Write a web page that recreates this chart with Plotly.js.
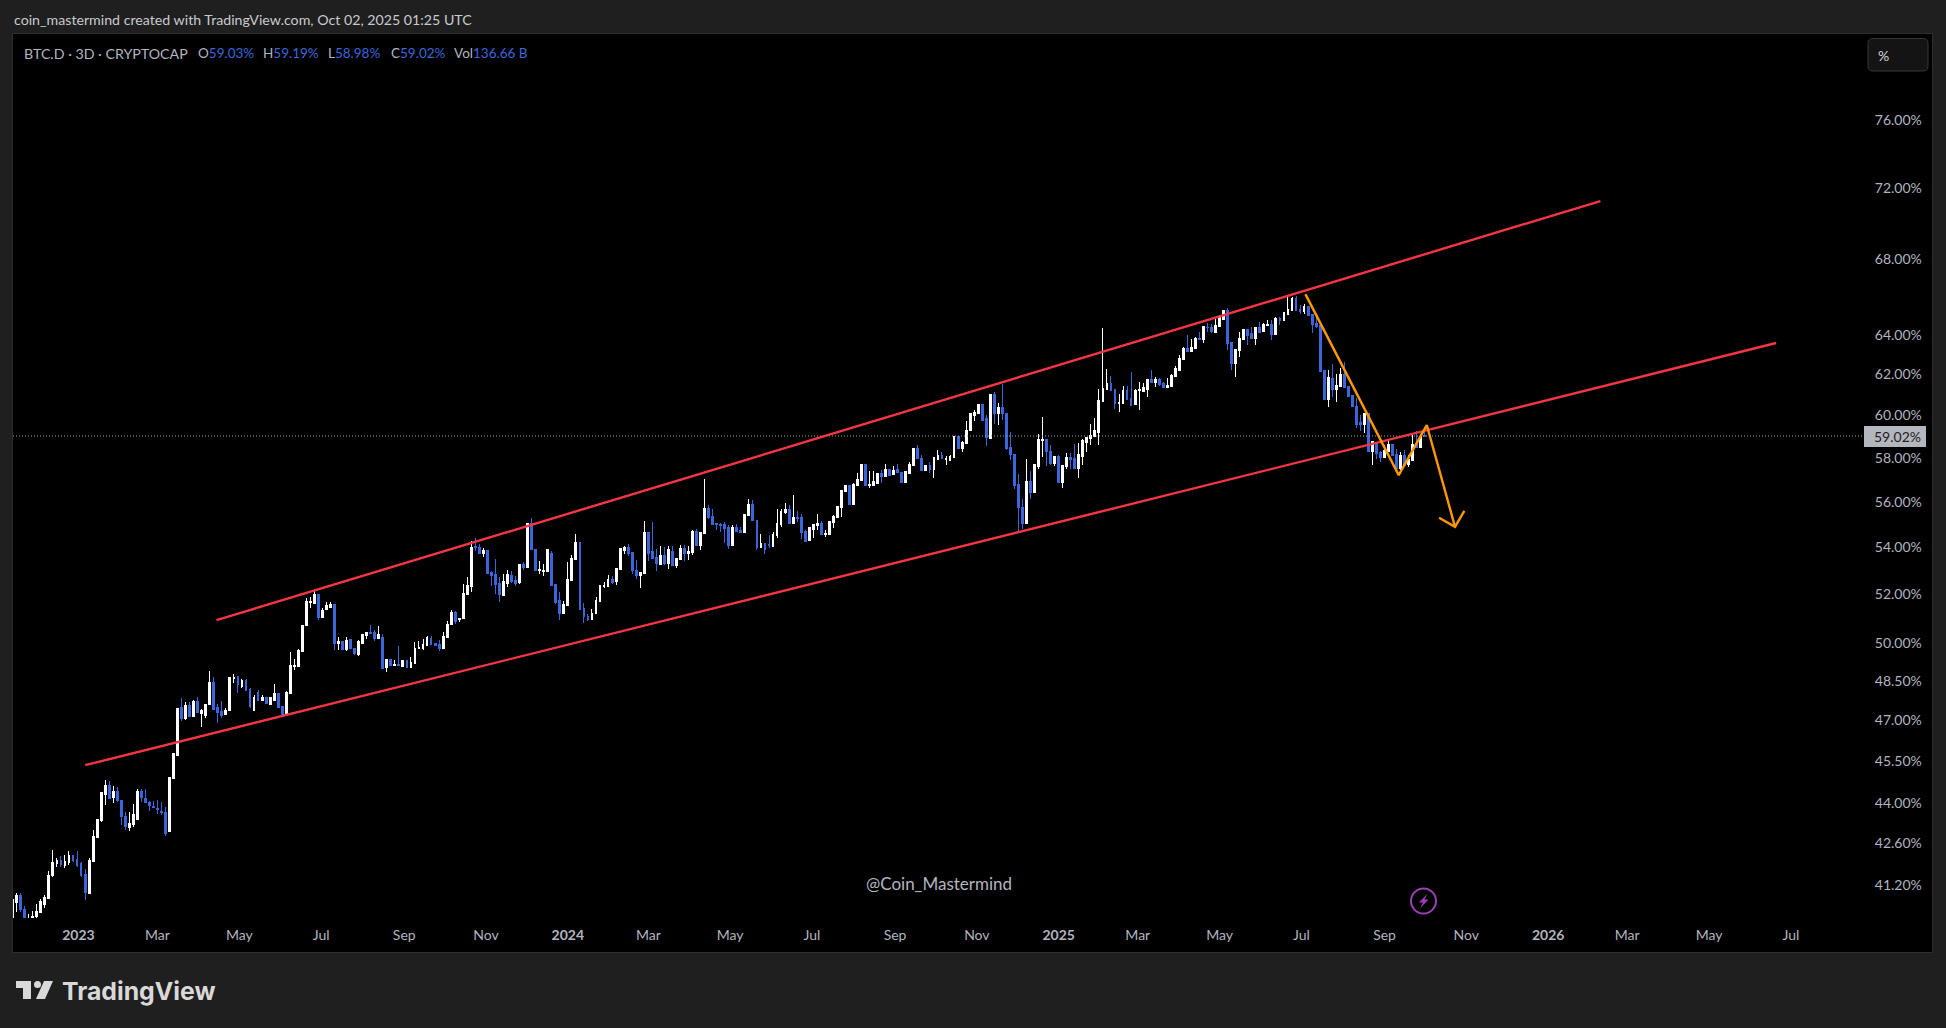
<!DOCTYPE html>
<html>
<head>
<meta charset="utf-8">
<script src="https://cdn.plot.ly/plotly-3.0.1.min.js"></script>
<style>html,body{margin:0;padding:0;background:#1f1f1f;overflow:hidden}#chart{width:1946px;height:1028px}
.boxlayer path{shape-rendering:crispEdges}</style>
</head>
<body>
<div id="chart"></div>
<script>
const firstBar = '2022-11-13';
const barStepDays = 3;
const openVals = [
39.90,40.64,40.87,40.39,39.90,40.06,40.19,40.32,40.58,40.77,
41.53,41.93,42.03,41.86,41.96,42.20,42.07,41.93,41.56,40.94,
42.00,42.81,43.40,44.31,44.63,44.20,44.42,44.10,43.54,43.16,
43.26,43.43,44.42,44.17,44.00,43.89,43.82,43.71,43.68,43.02,
44.88,45.71,47.51,47.09,47.58,47.16,47.73,47.28,47.20,47.62,
48.47,47.51,47.35,47.24,47.39,48.62,48.68,48.31,48.54,48.19,
47.39,48.08,47.77,47.89,47.62,47.77,48.04,47.54,47.24,48.04,
49.09,49.09,49.68,50.71,51.67,51.63,52.00,51.05,51.38,51.46,
51.59,50.00,50.08,49.74,50.16,49.80,49.54,50.00,50.33,50.45,
50.45,50.20,50.24,49.05,49.37,49.13,49.17,49.09,49.33,49.05,
49.21,49.78,49.78,49.92,50.20,50.00,49.96,49.78,50.24,50.77,
51.26,50.97,51.01,52.00,52.33,54.04,54.00,53.73,53.86,52.92,
52.84,52.46,51.96,52.46,52.80,52.59,52.50,53.26,53.14,55.04,
53.91,53.01,52.97,52.97,53.73,52.42,51.75,51.22,51.55,52.59,
53.48,54.21,51.42,51.09,50.97,51.22,51.71,52.34,52.34,52.63,
52.55,53.05,53.86,54.00,53.78,53.01,52.80,52.88,54.65,53.82,
53.57,53.26,53.65,53.31,53.82,53.22,53.48,53.95,53.73,53.78,
54.69,54.08,54.60,55.71,55.35,55.04,54.99,54.99,54.86,54.08,
54.86,54.73,54.65,55.39,55.88,55.17,54.00,54.17,54.13,54.04,
54.52,54.99,55.53,55.66,55.04,55.30,55.30,54.69,54.30,54.78,
54.95,55.04,54.56,54.56,55.08,55.30,55.75,56.47,56.74,55.88,
56.74,56.97,57.71,56.74,56.74,56.83,57.29,57.15,57.48,57.24,
57.48,57.34,56.88,57.29,57.66,58.41,57.98,57.43,57.66,57.48,
57.94,58.12,57.94,57.89,58.03,59.02,58.41,58.69,59.26,60.02,
60.07,60.55,59.83,58.92,61.03,60.07,60.36,60.07,58.50,58.17,
56.79,55.75,55.04,56.93,56.43,57.61,58.83,58.87,58.31,57.75,
58.08,56.88,57.61,58.03,57.98,57.52,58.08,58.73,58.92,59.02,
59.21,60.69,61.28,61.57,61.28,60.60,60.60,61.23,60.84,60.55,
61.23,61.18,61.28,61.77,61.62,61.77,61.57,61.38,61.43,61.92,
62.22,62.77,63.32,63.17,63.32,63.83,63.78,64.40,64.40,64.14,
64.45,64.81,65.28,63.63,62.57,63.22,63.78,64.29,64.09,63.83,
64.35,64.19,64.50,64.55,64.04,64.86,64.76,65.07,65.28,65.91,
65.33,65.18,65.44,65.07,64.60,64.50,62.22,60.79,61.82,61.28,
61.43,62.02,61.43,60.98,60.45,59.64,59.59,60.07,58.31,58.73,
58.26,58.03,58.31,58.60,58.17,57.52,58.12,57.71,57.89,58.64,58.50,59.03];
const highVals = [
40.77,40.94,40.94,40.52,40.26,40.35,40.58,40.74,40.87,41.66,
42.37,42.10,42.17,42.20,42.34,42.20,42.34,41.96,41.73,42.10,
43.05,43.43,44.38,44.81,44.78,44.60,44.56,44.10,43.68,43.68,
43.96,44.49,44.49,44.49,44.07,44.07,44.10,44.03,43.85,44.92,
45.79,47.47,47.85,47.70,47.70,47.77,47.89,47.43,47.62,48.89,
48.66,47.62,47.73,47.47,48.66,48.78,48.70,48.58,48.58,48.23,
47.96,48.16,47.96,47.89,47.89,48.39,48.04,47.54,48.12,49.64,
49.37,49.76,50.75,51.83,51.87,52.17,52.00,51.42,51.67,51.67,
51.59,50.24,50.08,50.24,50.16,49.80,50.12,50.37,50.45,50.73,
50.53,50.69,50.37,49.37,49.37,49.33,49.88,49.33,49.33,49.44,
50.04,50.08,50.16,50.29,50.29,50.00,50.12,50.45,50.89,51.34,
51.30,51.01,52.42,52.72,54.26,54.39,54.13,53.95,53.86,52.97,
53.48,52.72,52.84,53.01,52.97,52.76,53.26,53.35,55.04,55.26,
53.91,53.39,53.26,53.91,53.82,52.42,52.08,51.71,53.35,53.65,
54.56,54.21,51.63,51.18,51.38,51.87,52.38,52.50,52.80,52.76,
53.10,53.95,54.04,54.13,53.78,53.44,52.92,55.13,54.65,55.08,
53.91,54.04,54.00,54.04,54.04,53.52,54.08,54.08,54.04,54.73,
54.78,54.64,57.02,55.84,55.66,55.04,55.04,55.08,54.95,54.95,
54.99,54.86,55.44,56.11,56.06,55.17,54.56,54.17,54.52,54.65,
55.66,55.66,55.93,55.84,56.29,55.57,55.44,54.73,54.86,54.99,
55.44,55.13,54.73,55.13,55.39,55.80,56.52,56.74,56.74,56.83,
57.29,57.71,57.71,57.38,57.38,57.29,57.43,57.71,57.48,57.61,
57.71,57.34,57.38,57.80,58.41,58.60,58.12,57.66,57.80,58.03,
58.36,58.26,58.08,58.12,59.02,59.02,58.78,59.73,60.07,60.26,
60.55,60.55,60.02,61.03,61.13,60.60,61.52,60.07,59.21,58.17,
57.24,56.11,57.94,57.38,57.71,59.11,59.92,58.87,58.60,58.08,
58.12,57.66,58.22,58.22,58.64,58.69,58.87,58.97,59.59,59.87,
61.28,64.34,62.27,61.92,61.28,61.03,61.43,61.43,62.12,61.28,
61.62,61.57,61.77,62.22,61.87,61.82,61.62,61.82,62.02,62.42,
62.97,63.37,63.98,63.78,63.88,64.14,64.45,64.60,64.55,64.81,
65.02,65.28,65.39,63.63,63.27,64.14,64.29,64.29,64.40,64.40,
64.65,64.60,64.76,64.76,64.91,64.91,65.18,65.96,65.96,66.02,
65.54,65.59,65.44,65.07,64.91,64.50,62.22,62.22,62.52,62.02,
62.32,62.62,61.43,60.98,60.84,60.02,60.12,60.07,58.78,58.73,
58.31,58.60,58.83,58.64,58.41,58.26,58.36,58.12,59.06,59.26,59.11,59.19];
const lowVals = [
39.80,40.32,40.32,40.00,39.80,39.95,40.13,40.31,40.45,40.77,
41.46,41.80,41.80,41.76,41.86,41.96,41.80,41.46,40.71,40.94,
42.00,42.81,43.33,43.92,44.13,44.00,44.03,43.23,43.05,43.02,
43.16,43.43,44.03,44.00,43.71,43.82,43.61,43.58,42.84,43.02,
44.88,45.71,47.00,47.01,47.12,47.12,47.28,46.75,47.09,47.62,
47.39,46.90,47.09,47.24,47.39,48.43,48.04,48.23,48.16,47.47,
47.39,47.77,47.77,47.66,47.62,47.77,47.47,47.24,47.24,48.04,
48.93,49.09,49.64,50.71,51.42,51.63,50.95,51.03,51.38,51.46,
49.74,49.74,49.72,49.68,49.76,49.52,49.48,50.00,50.18,50.41,
50.08,50.20,49.01,48.85,49.13,49.09,49.13,49.09,49.01,49.05,
49.21,49.78,49.74,49.92,49.96,49.88,49.70,49.78,50.24,50.77,
50.77,50.85,51.01,52.00,52.11,53.82,53.73,53.57,52.88,52.34,
52.00,51.67,51.96,52.29,52.46,52.34,52.42,53.01,53.14,53.91,
53.01,52.84,52.76,52.97,52.34,51.59,50.93,51.18,51.55,52.59,
53.44,51.34,50.81,50.89,50.97,51.18,51.71,52.25,52.34,52.42,
52.38,53.05,53.69,53.60,52.84,52.63,52.25,52.88,53.39,53.52,
52.97,53.22,53.22,53.05,53.22,53.10,53.48,53.39,53.44,53.65,
54.08,53.86,54.60,55.21,54.99,54.73,54.65,54.17,53.91,54.08,
54.65,54.65,54.65,55.39,55.13,53.86,54.00,53.69,53.95,54.04,
54.39,54.86,55.44,55.04,55.04,55.08,54.34,54.21,54.30,54.39,
54.73,54.56,54.43,54.56,54.82,55.30,55.30,56.47,55.84,55.88,
56.74,56.97,56.74,56.61,56.74,56.83,56.83,57.15,57.15,57.24,
57.34,56.83,56.88,57.29,57.66,57.98,57.43,57.43,57.29,57.06,
57.94,57.98,57.66,57.85,58.03,58.41,58.26,58.69,59.26,59.73,
60.07,59.78,58.55,58.92,59.59,59.54,59.78,58.36,57.89,56.56,
54.60,54.78,55.04,56.11,56.38,57.48,58.03,57.61,57.66,57.61,
56.88,56.61,57.48,57.48,57.48,57.06,57.66,58.26,58.60,59.02,
58.60,60.69,61.28,61.23,60.31,60.17,60.60,60.79,60.50,60.55,
60.26,61.18,60.89,61.62,61.38,61.43,61.33,61.38,61.38,61.87,
62.22,62.77,63.17,63.17,63.27,63.78,63.58,64.14,64.09,64.14,
64.45,64.81,63.22,62.22,61.87,62.87,63.78,63.47,63.83,63.47,
64.14,64.19,64.45,63.73,64.04,64.50,64.71,65.02,65.28,65.23,
65.07,65.09,65.02,64.09,64.35,62.17,60.74,60.41,60.89,60.64,
61.43,61.38,60.94,60.45,59.40,59.26,59.16,58.26,57.66,57.94,
57.80,58.03,58.31,58.07,57.52,57.24,57.62,57.57,57.89,58.50,58.50,58.98];
const closeVals = [
40.74,40.87,40.42,40.13,40.02,40.19,40.35,40.67,40.80,41.53,
41.96,42.03,41.89,42.00,42.20,42.03,41.86,41.53,40.97,42.03,
42.84,43.43,44.38,44.63,44.17,44.42,44.07,43.51,43.19,43.30,
43.61,44.42,44.20,44.00,43.92,43.85,43.78,43.68,42.95,44.92,
45.79,47.47,47.09,47.58,47.16,47.73,47.32,47.39,47.62,48.47,
47.43,47.32,47.20,47.39,48.66,48.66,48.36,48.54,48.16,47.54,
47.89,47.77,47.89,47.66,47.89,48.04,47.51,47.24,48.08,49.13,
49.13,49.70,50.73,51.71,51.71,52.00,51.05,51.34,51.55,51.59,
50.00,50.08,49.74,50.12,49.80,49.58,50.08,50.37,50.45,50.41,
50.20,50.37,49.01,49.37,49.13,49.17,49.13,49.33,49.05,49.25,
49.78,49.82,49.96,50.24,49.96,49.90,49.78,50.29,50.77,51.26,
50.89,51.01,52.04,52.38,54.00,54.00,53.73,53.86,52.88,52.80,
52.42,52.00,52.55,52.84,52.55,52.46,53.26,53.14,55.04,53.91,
53.01,53.05,53.01,53.91,52.38,51.67,51.22,51.59,52.63,53.52,
54.21,51.38,51.09,50.97,51.22,51.75,52.38,52.38,52.63,52.50,
53.10,53.95,54.00,53.73,53.01,52.80,52.92,54.65,53.73,53.52,
53.31,53.65,53.31,53.91,53.22,53.52,53.95,53.73,53.82,54.69,
54.08,54.64,55.71,55.30,54.99,54.99,54.95,54.82,54.08,54.86,
54.69,54.65,55.44,55.88,55.17,54.00,54.17,53.91,54.08,54.56,
55.04,55.57,55.66,55.04,55.30,55.26,54.65,54.26,54.86,54.99,
55.04,54.56,54.60,55.13,55.35,55.80,56.52,56.74,55.88,56.79,
57.02,57.71,56.74,56.79,56.93,57.29,57.15,57.48,57.20,57.43,
57.34,56.88,57.38,57.71,58.41,57.98,57.43,57.66,57.48,58.03,
58.12,57.98,57.98,58.08,59.02,58.41,58.73,59.30,60.07,60.12,
60.55,59.78,58.97,61.03,60.07,60.36,60.07,58.45,58.17,56.74,
55.75,55.04,56.93,56.43,57.71,58.87,58.87,58.31,57.75,58.08,
56.88,57.66,58.03,57.94,57.52,58.17,58.83,58.97,59.06,59.26,
60.74,61.33,61.57,61.23,60.60,60.64,61.23,60.79,60.50,61.23,
61.28,61.38,61.77,61.62,61.77,61.52,61.38,61.47,61.97,62.32,
62.82,63.32,63.17,63.37,63.83,63.78,64.45,64.35,64.19,64.50,
64.91,65.28,63.58,62.57,63.27,63.83,64.29,63.98,63.83,64.35,
64.14,64.55,64.55,64.04,64.86,64.76,65.13,65.33,65.91,65.28,
65.23,65.44,65.02,64.55,64.45,62.17,60.79,61.87,61.28,61.47,
62.02,61.38,60.94,60.45,59.59,59.59,60.07,58.31,58.78,58.22,
58.03,58.36,58.60,58.12,57.52,58.12,57.66,57.94,58.64,58.50,59.02,59.02];

const priceTicks = [76,72,68,64,62,60,58,56,54,52,50,48.5,47,45.5,44,42.6,41.2];
const timeTicks = ['2023-01-01','2023-03-01','2023-05-01','2023-07-01','2023-09-01','2023-11-01','2024-01-01','2024-03-01','2024-05-01','2024-07-01','2024-09-01','2024-11-01','2025-01-01','2025-03-01','2025-05-01','2025-07-01','2025-09-01','2025-11-01','2026-01-01','2026-03-01','2026-05-01','2026-07-01'];
const timeLabels = ['<b>2023</b>','Mar','May','Jul','Sep','Nov','<b>2024</b>','Mar','May','Jul','Sep','Nov','<b>2025</b>','Mar','May','Jul','Sep','Nov','<b>2026</b>','Mar','May','Jul'];
const lastPrice = 59.02;

const upperDates = ['2023-04-14','2026-02-09'];
const upperVals = [50.93,71.23];
const lowerDates = ['2023-01-06','2026-06-20'];
const lowerVals = [45.35,63.58];
const pathDates = ['2025-07-04','2025-09-11 14:00','2025-10-02 12:00','2025-10-23 14:00'];
const pathVals = [66.12,57.2,59.54,54.88];
const headDates = ['2025-10-11 16:00','2025-10-23 14:00','2025-10-30 12:00'];
const headVals = [55.28,54.88,55.59];

const X0='2022-11-13 06:00', X1='2026-08-24 13:00';
const barDates = closeVals.map((_,i)=>{const d=new Date(firstBar+'T00:00:00Z');d.setUTCDate(d.getUTCDate()+i*barStepDays);return d.toISOString().slice(0,10);});

const PL=13,PR=1864,PT=34,PB=918;
const px=x=>(x-PL)/(PR-PL), py=y=>(PB-y)/(PB-PT);
const FONT='Lato, "Open Sans", sans-serif';
const GREY='#b2b5be', BLUE='#3a66dc';
const polyPath=pts=>'M'+pts.map(p=>px(p[0])+' '+py(p[1])).join(' L')+' Z';
const rr=(x0,y0,x1,y1,r)=>{
  return 'M'+px(x0+r)+' '+py(y0)+' L'+px(x1-r)+' '+py(y0)+' Q'+px(x1)+' '+py(y0)+' '+px(x1)+' '+py(y0+r)+
  ' L'+px(x1)+' '+py(y1-r)+' Q'+px(x1)+' '+py(y1)+' '+px(x1-r)+' '+py(y1)+' L'+px(x0+r)+' '+py(y1)+
  ' Q'+px(x0)+' '+py(y1)+' '+px(x0)+' '+py(y1-r)+' L'+px(x0)+' '+py(y0+r)+' Q'+px(x0)+' '+py(y0)+' '+px(x0+r)+' '+py(y0)+' Z';
};
const ann=(x,y,text,size,color,extra)=>Object.assign({xref:'paper',yref:'paper',x:px(x),y:py(y),text,showarrow:false,
  xanchor:'left',yanchor:'middle',font:{family:FONT,size,color},borderpad:0},extra||{});

const traces=[
 {type:'candlestick',x:barDates,open:openVals,high:highVals,low:lowVals,close:closeVals,
  increasing:{line:{color:'#ffffff',width:1},fillcolor:'#ffffff'},
  decreasing:{line:{color:BLUE,width:1},fillcolor:BLUE},
  whiskerwidth:0,hoverinfo:'skip',showlegend:false},
 {type:'scatter',mode:'lines',x:[X0,X1],y:[lastPrice,lastPrice],line:{color:'#a8a8a8',width:1,dash:'1px,2px'},hoverinfo:'skip',showlegend:false},
 {type:'scatter',mode:'lines',x:upperDates,y:upperVals,line:{color:'#f23645',width:2.4},hoverinfo:'skip',showlegend:false},
 {type:'scatter',mode:'lines',x:lowerDates,y:lowerVals,line:{color:'#f23645',width:2.4},hoverinfo:'skip',showlegend:false},
 {type:'scatter',mode:'lines',x:pathDates,y:pathVals,line:{color:'#ff9800',width:2.4},hoverinfo:'skip',showlegend:false},
 {type:'scatter',mode:'lines',x:headDates,y:headVals,line:{color:'#ff9800',width:2.4},hoverinfo:'skip',showlegend:false}
];

const layout={
 width:1946,height:1028,margin:{l:PL,r:1946-PR,t:PT,b:1028-PB,pad:0},
 paper_bgcolor:'#1f1f1f',plot_bgcolor:'#000000',showlegend:false,boxgap:0.35,
 xaxis:{type:'date',range:[X0,X1],tickmode:'array',tickvals:timeTicks,ticktext:timeLabels,showgrid:false,zeroline:false,showline:false,
   rangeslider:{visible:false},ticks:'outside',ticklen:4,tickcolor:'rgba(0,0,0,0)',tickangle:0,tickfont:{family:FONT,size:14,color:GREY},fixedrange:true},
 yaxis:{type:'log',side:'right',range:[1.60347,1.91073],tickmode:'array',tickvals:priceTicks,ticktext:priceTicks.map(v=>v.toFixed(2)+'%'),showgrid:false,zeroline:false,showline:false,
   ticks:'outside',ticklen:7,tickcolor:'rgba(0,0,0,0)',tickfont:{family:FONT,size:14,color:GREY},fixedrange:true},
 shapes:[
  {type:'rect',xref:'paper',yref:'paper',layer:'below',x0:px(12.5),x1:px(1932.5),y0:py(33.5),y1:py(952.5),fillcolor:'#000000',line:{color:'#2e2e2e',width:1}},
  {type:'path',xref:'paper',yref:'paper',path:rr(1868,38.5,1928,71,5),fillcolor:'#141414',line:{color:'#363636',width:1}},
  {type:'circle',xref:'paper',yref:'paper',x0:px(1411),x1:px(1436),y0:py(888.5),y1:py(913.5),line:{color:'#9c3fb5',width:2},fillcolor:'rgba(0,0,0,0)'},
  {type:'path',xref:'paper',yref:'paper',path:polyPath([[1427.5,893.5],[1419,902.5],[1423,902.5],[1420,908.5],[1428.5,899.5],[1424.5,899.5]]),fillcolor:'#9c3fb5',line:{width:0}},
  {type:'rect',xref:'paper',yref:'paper',x0:px(1864),x1:px(1926),y0:py(426),y1:py(447),fillcolor:'#b4b6bd',line:{width:0}},
  {type:'path',xref:'paper',yref:'paper',path:polyPath([[16,981],[31,981],[31,999],[23,999],[23,988],[16,988]]),fillcolor:'#d9d9d9',line:{width:0}},
  {type:'circle',xref:'paper',yref:'paper',x0:px(34),x1:px(41),y0:py(981),y1:py(988),fillcolor:'#d9d9d9',line:{width:0}},
  {type:'path',xref:'paper',yref:'paper',path:polyPath([[44,981],[53,981],[45,999],[36,999]]),fillcolor:'#d9d9d9',line:{width:0}}
 ],
 annotations:[
  ann(12.5,19,'coin_mastermind created with TradingView.com, Oct 02, 2025 01:25 UTC',14.2,'#c8cad0'),
  ann(23,53,'BTC.D · 3D · CRYPTOCAP',14.2,GREY),
  ann(197,53,'O<span style="color:'+BLUE+'">59.03%</span>',13.5,GREY),
  ann(262,53,'H<span style="color:'+BLUE+'">59.19%</span>',13.5,GREY),
  ann(327,53,'L<span style="color:'+BLUE+'">58.98%</span>',13.5,GREY),
  ann(390,53,'C<span style="color:'+BLUE+'">59.02%</span>',13.5,GREY),
  ann(453,53,'Vol<span style="color:'+BLUE+'">136.66 B</span>',13.5,GREY),
  ann(1877,55,'%',14,'#d8d8d8'),
  ann(1873,436.5,lastPrice.toFixed(2)+'%',14,'#1f2027'),
  ann(865,883,'@Coin_Mastermind',17,'#b2b5be'),
  ann(61,991,'<b>TradingView</b>',25,'#d9d9d9',{font:{family:'Inter, Lato, sans-serif',size:24.8,color:'#d9d9d9'}})
 ]
};
Plotly.newPlot('chart',traces,layout,{displayModeBar:false,staticPlot:true});
</script>
</body>
</html>
